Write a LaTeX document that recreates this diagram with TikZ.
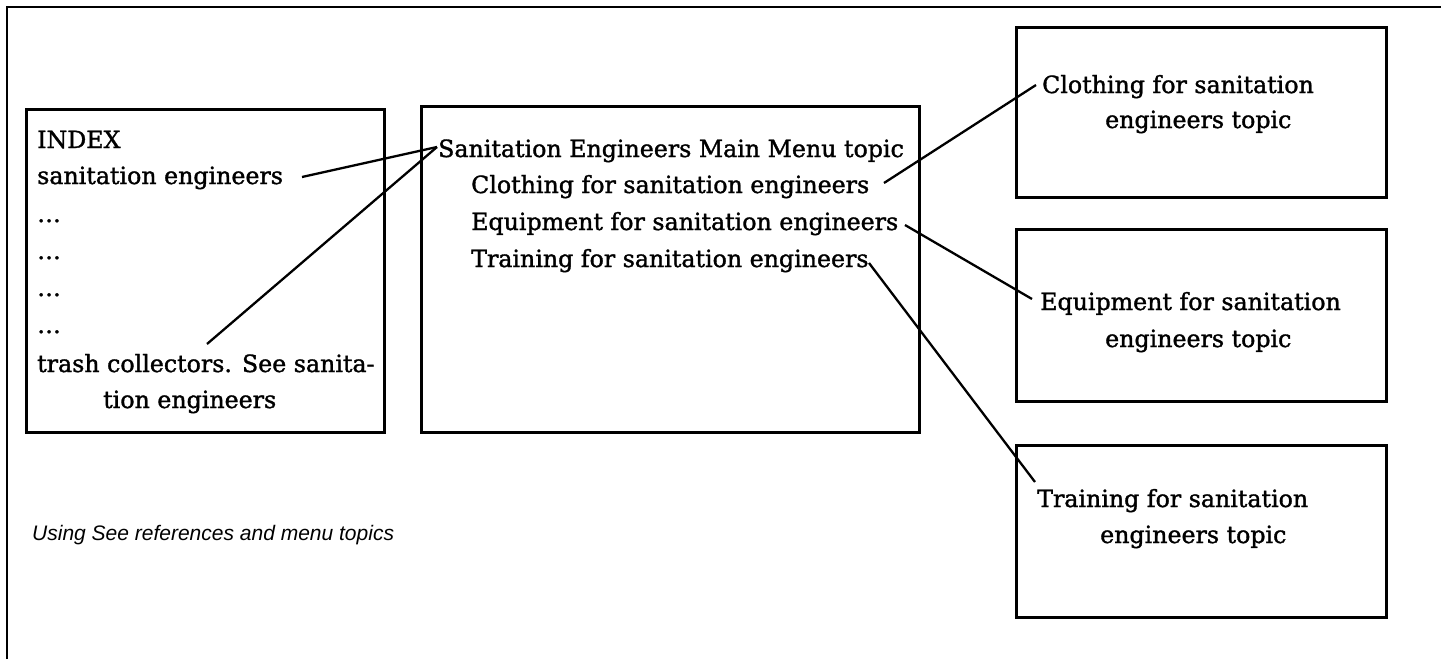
\documentclass[tikz,border=0pt]{standalone}
\usepackage{fontspec}
\setmainfont{DejaVu Serif}[FakeBold=1.4]
\setsansfont{Liberation Sans}
\begin{document}
\begin{tikzpicture}[x=1pt,y=-1pt,
  box/.style={draw, line width=2.8pt, inner sep=0pt, anchor=north west},
  txt/.style={anchor=base west, inner sep=0pt, font=\fontsize{23.7}{28}\selectfont},
  link/.style={line width=2.3pt},
  frame/.style={line width=2.8pt}]
\useasboundingbox (0,0) rectangle (1441,659);
\draw[frame] (7,659) -- (7,7) -- (1441,7);
% boxes
\node[box, minimum width=358pt, minimum height=323pt] (index) at (25,108) {};
\node[box, minimum width=498pt, minimum height=326pt] (menu) at (420,105) {};
\node[box, minimum width=370pt, minimum height=170pt] (clothbox) at (1015,26) {};
\node[box, minimum width=370pt, minimum height=172pt] (equipbox) at (1015,228) {};
\node[box, minimum width=370pt, minimum height=172pt] (trainbox) at (1015,444) {};
% index text
\node[txt] (idx) at (37,148) {INDEX};
\node[txt] (isan) at (37,184) {sanitation engineers};
\node[txt] (d1) at (37,222) {\dots};
\node[txt] (d2) at (37,259) {\dots};
\node[txt] (d3) at (37,296) {\dots};
\node[txt] (d4) at (37,333) {\dots};
\node[txt] (trash) at (37,372) {trash collectors. See sanita-};
\node[txt] (trash2) at (103,408) {tion engineers};
% menu text
\node[txt] (mmain) at (438,157) {Sanitation Engineers Main Menu topic};
\node[txt] (mcloth) at (471,193) {Clothing for sanitation engineers};
\node[txt] (mequip) at (471,230) {Equipment for sanitation engineers};
\node[txt] (mtrain) at (471,267) {Training for sanitation engineers};
% topic text
\node[txt] (tcloth) at (1042,93) {Clothing for sanitation};
\node[txt] (tcloth2) at (1105,128) {engineers topic};
\node[txt] (tequip) at (1040,310) {Equipment for sanitation};
\node[txt] (tequip2) at (1105,347) {engineers topic};
\node[txt] (ttrain) at (1037,507) {Training for sanitation};
\node[txt] (ttrain2) at (1100,543) {engineers topic};
% caption
\node[anchor=base west, inner sep=0pt, font=\sffamily\itshape\fontsize{21}{24}\selectfont] (cap) at (32,540) {Using See references and menu topics};
% connector ends
\coordinate (a1) at (302,177);
\coordinate (a2) at (207,344);
\coordinate (b0) at (437,147);
\coordinate (c1) at (884,183);
\coordinate (c2) at (1036,85);
\coordinate (e1) at (905,225);
\coordinate (e2) at (1032,299);
\coordinate (f1) at (869,263);
\coordinate (f2) at (1035,482);
\draw[link] (a1) -- (b0);
\draw[link] (a2) -- (b0);
\draw[link] (c1) -- (c2);
\draw[link] (e1) -- (e2);
\draw[link] (f1) -- (f2);
\end{tikzpicture}
\end{document}
